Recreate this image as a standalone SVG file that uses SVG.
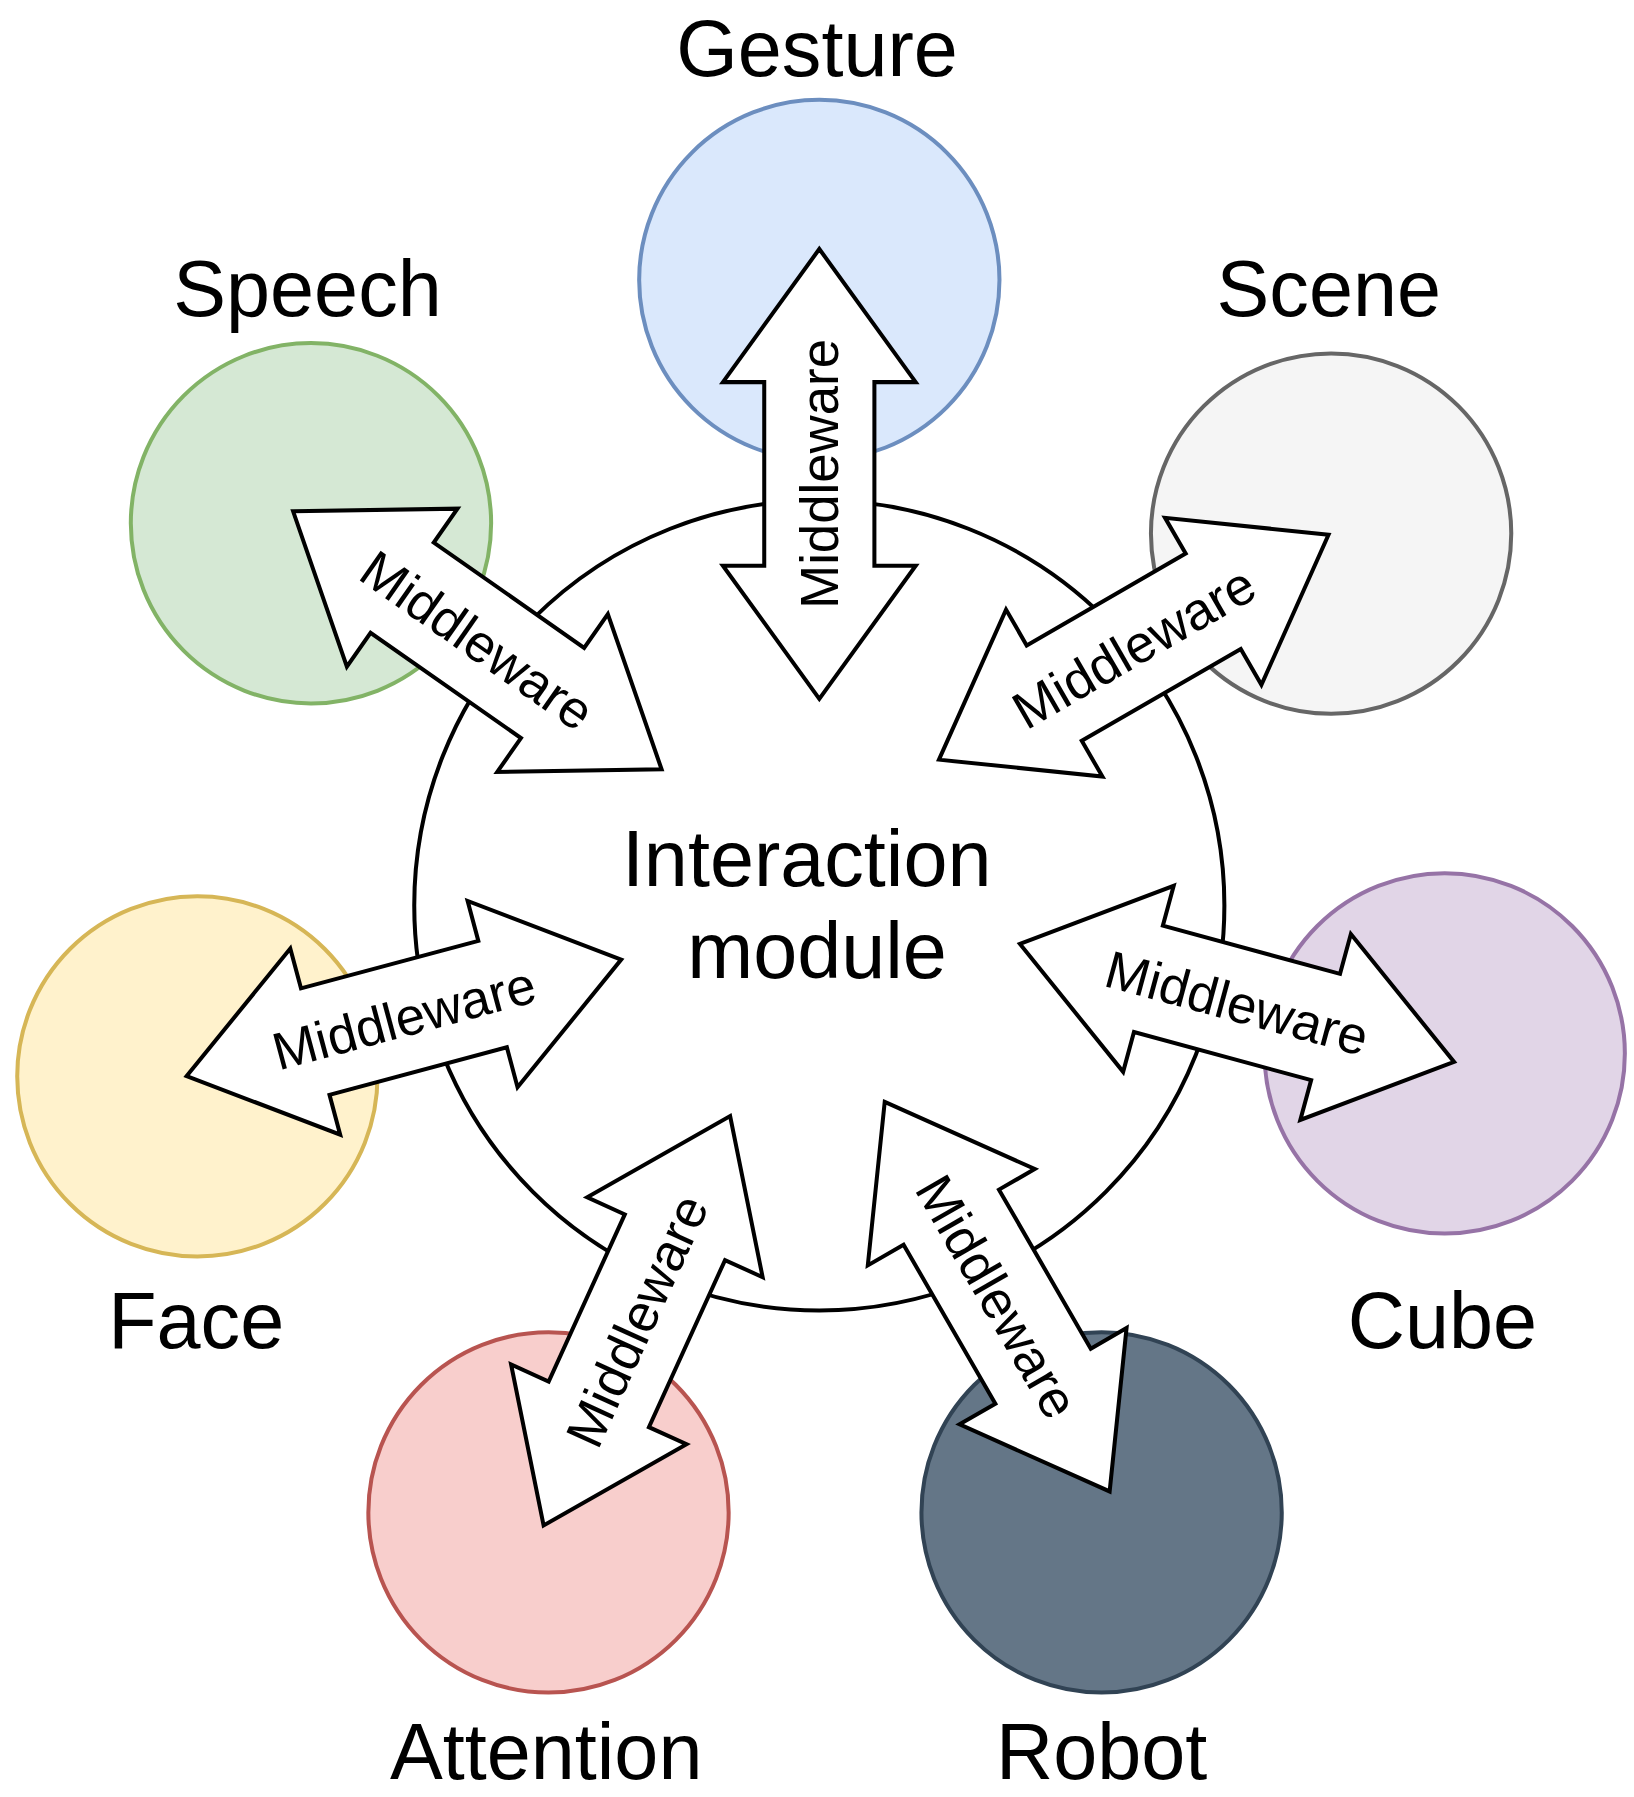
<svg xmlns="http://www.w3.org/2000/svg" width="1634" height="1797" viewBox="0 0 1634 1797">
<style>
.lbl{font-family:"Liberation Sans",Arial,sans-serif;font-size:69px;fill:#000;text-anchor:middle}
.mw{font-family:"Liberation Sans",Arial,sans-serif;font-size:46px;fill:#000;text-anchor:middle;dominant-baseline:central}
.arr{fill:#fff;stroke:#000;stroke-width:3.5;stroke-linejoin:miter}
.c{stroke-width:3.5}
</style>
<defs>
<polygon id="da" class="arr" points="-196,0 -80,-84 -80,-48 80,-48 80,-84 196,0 80,84 80,48 -80,48 -80,84"/>
</defs>
<rect width="1634" height="1797" fill="#fff"/>
<g transform="scale(1.1475)">
<g id="gesture"><circle class="c" cx="714" cy="244" r="157" fill="#dae8fc" stroke="#6c8ebf"/><text class="lbl" x="712" y="66">Gesture</text></g>
<g id="speech"><circle class="c" cx="271" cy="456" r="157" fill="#d5e8d4" stroke="#82b366"/><text class="lbl" x="268" y="275">Speech</text></g>
<g id="scene"><circle class="c" cx="1160" cy="465" r="157" fill="#f5f5f5" stroke="#666666"/><text class="lbl" x="1158" y="275">Scene</text></g>
<g id="face"><circle class="c" cx="172" cy="938" r="157" fill="#fff2cc" stroke="#d6b656"/><text class="lbl" x="171" y="1175">Face</text></g>
<g id="cube"><circle class="c" cx="1259" cy="918" r="157" fill="#e1d5e7" stroke="#9673a6"/><text class="lbl" x="1257" y="1175">Cube</text></g>
<g id="attention"><circle class="c" cx="478" cy="1318" r="157" fill="#f8cecc" stroke="#b85450"/><text class="lbl" x="476" y="1550">Attention</text></g>
<g id="robot"><circle class="c" cx="960" cy="1318" r="157" fill="#647687" stroke="#314354"/><text class="lbl" x="960" y="1550">Robot</text></g>
<g id="interaction"><circle cx="714" cy="789" r="353" fill="#fff" stroke="#000" stroke-width="3.5"/><text class="lbl" x="703" y="772">Interaction</text><text class="lbl" x="712" y="852">module</text></g>
<g id="connectors">
<g transform="translate(714,413) rotate(-90)"><use href="#da"/><text class="mw">Middleware</text></g>
<g transform="translate(416,558) rotate(35)"><use href="#da"/><text class="mw">Middleware</text></g>
<g transform="translate(988,564) rotate(-30)"><use href="#da"/><text class="mw">Middleware</text></g>
<g transform="translate(352,887) rotate(-15)"><use href="#da"/><text class="mw">Middleware</text></g>
<g transform="translate(1078,874) rotate(15.2)"><use href="#da"/><text class="mw">Middleware</text></g>
<g transform="translate(555,1151) rotate(-65.5)"><use href="#da"/><text class="mw">Middleware</text></g>
<g transform="translate(869,1130) rotate(60)"><use href="#da"/><text class="mw">Middleware</text></g>
</g>
</g>
</svg>
